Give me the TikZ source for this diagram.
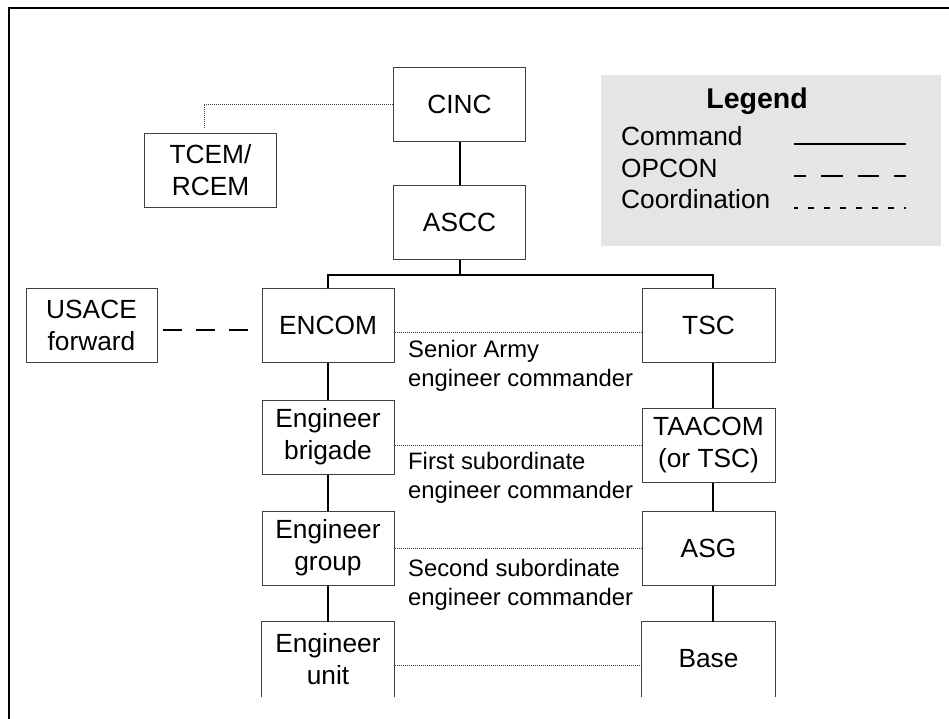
\documentclass[tikz,border=0pt]{standalone}
\usepackage{fontspec}
\setmainfont{Liberation Sans}
\begin{document}
\begin{tikzpicture}[x=1pt,y=-1pt,
  box/.style={draw=black!75,line width=1pt,minimum width=132pt,minimum height=74pt,inner sep=0pt,align=center,font=\fontsize{26.3}{32}\selectfont},
  openbox/.style={box,draw=none},
  boxline/.style={draw=black!75,line width=1pt},
  cmd/.style={line width=2pt},
  opcon/.style={line width=2pt,dash pattern=on 19pt off 14pt},
  coord/.style={line width=0.9pt,black!75,dash pattern=on 1pt off 1pt},
  lab/.style={font=\fontsize{23.8}{29}\selectfont,align=left,inner sep=0pt,anchor=base west},
  legtext/.style={font=\fontsize{26.3}{32}\selectfont,inner sep=0pt,anchor=base west}]
\useasboundingbox (0,0) rectangle (949,719);
% frame
\draw[line width=2pt] (9,721) -- (9,8) -- (951,8);
% legend
\node[fill=black!10,minimum width=340pt,minimum height=171pt,inner sep=0pt] (legend) at (771,160.5) {};
\node[font=\bfseries\fontsize{28.5}{34}\selectfont,anchor=base,inner sep=0pt] (legtitle) at (757,109) {Legend};
\node[legtext] (lcmd) at (621,146) {Command};
\node[legtext] (lop) at (621,178) {OPCON};
\node[legtext] (lco) at (621,209) {Coordination};
\coordinate (c1a) at (794,144); \coordinate (c1b) at (906,144);
\coordinate (c2a) at (794,176); \coordinate (c2b) at (906,176);
\coordinate (c3a) at (794,208); \coordinate (c3b) at (906,208);
\draw[cmd] (c1a) -- (c1b);
\draw[line width=2pt,dash pattern=on 21.5pt off 15pt,dash phase=9.5pt] (c2a) -- (c2b);
\draw[line width=2pt,dash pattern=on 6pt off 10pt,dash phase=2pt] (c3a) -- (c3b);
% boxes
\node[box] (cinc) at (459.5,104.5) {CINC};
\node[box] (ascc) at (459.5,222.5) {ASCC};
\node[box] (tcem) at (210.5,170.5) {TCEM/\\RCEM};
\node[box,minimum width=131pt] (usace) at (91.5,325.5) {USACE\\forward};
\node[box] (encom) at (328,325.5) {ENCOM};
\node[box] (brig) at (328,437) {Engineer\\brigade};
\node[box] (grp) at (328,548) {Engineer\\group};
\node[openbox] (unit) at (328,659) {Engineer\\unit};
\node[box,minimum width=133pt] (tsc) at (708.5,325.5) {TSC};
\node[box,minimum width=133pt] (taacom) at (708.5,445) {TAACOM\\(or TSC)};
\node[box,minimum width=133pt] (asg) at (708.5,548) {ASG};
\node[openbox,minimum width=133pt] (base) at (708.5,659) {Base};
\draw[boxline] (unit.south west) -- (unit.north west) -- (unit.north east) -- (unit.south east);
\draw[boxline] (base.south west) -- (base.north west) -- (base.north east) -- (base.south east);
% command lines
\draw[cmd] (cinc.south) -- (ascc.north);
\draw[cmd] (ascc.south) -- ++(0,16);
\draw[cmd] (encom.north) -- ++(0,-13) -| ([xshift=4.5pt]tsc.north);
\draw[cmd] (encom.south) -- (brig.north);
\draw[cmd] (brig.south) -- (grp.north);
\draw[cmd] (grp.south) -- (unit.north);
\draw[cmd] ([xshift=4.5pt]tsc.south) -- ([xshift=4.5pt]taacom.north);
\draw[cmd] ([xshift=4.5pt]taacom.south) -- ([xshift=4.5pt]asg.north);
\draw[cmd] ([xshift=4.5pt]asg.south) -- ([xshift=4.5pt]base.north);
% opcon
\draw[opcon,shorten <=5pt,shorten >=13pt] ([yshift=-4.5pt]usace.east) -- ([yshift=-4.5pt]encom.west);
% coordination
\draw[coord] (cinc.west) -| ([xshift=-6.5pt,yshift=5pt]tcem.north);
\draw[coord] ([yshift=-6.5pt]encom.east) -- ([yshift=-6.5pt]tsc.west);
\draw[coord] (brig.east |- taacom.west) -- (taacom.west);
\draw[coord] (grp.east) -- (asg.west);
\draw[coord] ([yshift=-6pt]unit.east) -- ([yshift=-6pt]base.west);
% labels
\node[lab] (lab1) at (408,386) {Senior Army\\engineer commander};
\node[lab] (lab2) at (408,498) {First subordinate\\engineer commander};
\node[lab] (lab3) at (408,605) {Second subordinate\\engineer commander};
\end{tikzpicture}
\end{document}
